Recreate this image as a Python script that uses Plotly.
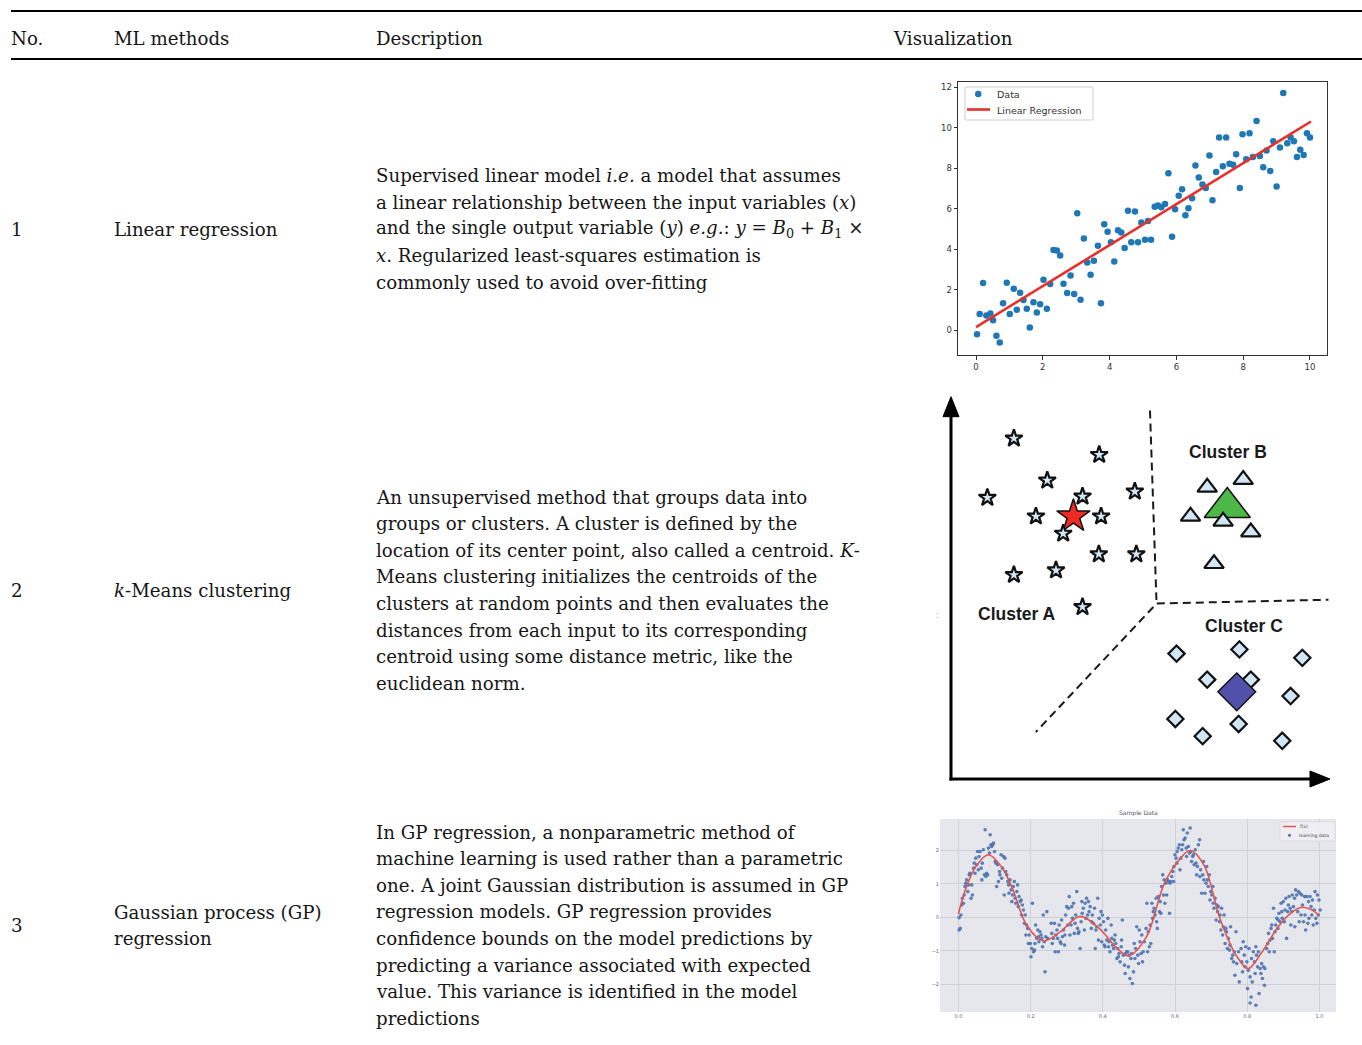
import plotly.graph_objects as go

# ======================= DATA =======================
header_labels = ["No.", "ML methods", "Description", "Visualization"]
row_numbers = ["1", "2", "3"]
method_lines = [["Linear regression"],
                ["<i>k</i>-Means clustering"],
                ["Gaussian process (GP)", "regression"]]
desc_lines_1 = [
    "Supervised linear model <i>i.e.</i> a model that assumes",
    "a linear relationship between the input variables (<i>x</i>)",
    "and the single output variable (<i>y</i>) <i>e.g.</i>: <i>y</i> = <i>B</i><sub>0</sub> + <i>B</i><sub>1</sub> ×",
    "<i>x</i>. Regularized least-squares estimation is",
    "commonly used to avoid over-fitting",
]
desc_lines_2 = [
    "An unsupervised method that groups data into",
    "groups or clusters. A cluster is defined by the",
    "location of its center point, also called a centroid. <i>K</i>-",
    "Means clustering initializes the centroids of the",
    "clusters at random points and then evaluates the",
    "distances from each input to its corresponding",
    "centroid using some distance metric, like the",
    "euclidean norm.",
]
desc_lines_3 = [
    "In GP regression, a nonparametric method of",
    "machine learning is used rather than a parametric",
    "one. A joint Gaussian distribution is assumed in GP",
    "regression models. GP regression provides",
    "confidence bounds on the model predictions by",
    "predicting a variance associated with expected",
    "value. This variance is identified in the model",
    "predictions",
]

# --- Linear regression panel ---
lr_x = [0.03,0.11,0.21,0.31,0.43,0.51,0.61,0.71,0.81,0.92, 1.01,1.13,1.22,1.32,1.42,1.52,1.61,1.72,1.82,1.92,
        2.02,2.12,2.22,2.32,2.42,2.52,2.62,2.73,2.83,2.94, 3.03,3.13,3.23,3.33,3.43,3.53,3.65,3.74,3.84,3.94,
        4.04,4.14,4.25,4.35,4.45,4.55,4.65,4.76,4.85,4.95, 5.06,5.15,5.24,5.35,5.45,5.55,5.66,5.76,5.87,5.96,
        6.07,6.17,6.27,6.36,6.47,6.57,6.67,6.78,6.88,6.99, 7.08,7.19,7.28,7.39,7.49,7.59,7.70,7.79,7.90,7.98,
        8.09,8.19,8.29,8.40,8.50,8.60,8.70,8.81,8.90,9.00, 9.10,9.20,9.32,9.42,9.52,9.61,9.71,9.81,9.91,10.0]
lr_y = [-0.2,0.79,2.32,0.72,0.82,0.49,-0.28,-0.61,1.32,2.34, 0.79,2.04,1.0,1.84,1.48,1.05,0.13,1.37,0.87,1.28,
        2.48,1.05,2.27,3.96,3.93,3.68,2.29,1.83,2.70,1.78, 5.77,1.50,4.52,3.34,2.73,3.42,4.16,1.32,5.23,4.85,
        4.34,3.39,4.93,4.82,4.05,5.89,4.34,5.86,4.34,5.31, 4.46,5.39,4.46,6.09,6.15,6.07,6.22,7.75,4.61,5.97,
        6.63,6.96,5.67,6.02,6.51,8.13,7.53,7.19,7.01,8.62, 6.41,7.80,9.51,8.09,9.51,8.21,8.16,8.68,7.01,9.67,
        8.44,9.72,8.55,10.33,8.59,8.04,8.87,7.85,9.33,7.09, 9.01,11.71,9.23,9.51,9.33,8.55,8.90,8.65,9.72,9.51]
lr_fit_x = [0.0, 10.03]
lr_fit_y = [0.15, 10.3]
lr_xticks = [0, 2, 4, 6, 8, 10]
lr_yticks = [0, 2, 4, 6, 8, 10, 12]
lr_legend_labels = ["Data", "Linear Regression"]

# --- k-Means panel (diagram units 0..10) ---
km_star_x = [1.66,3.91,2.54,0.96,3.47,4.85,2.24,3.96,2.96,3.90,4.89,1.66,2.77,3.47]
km_star_y = [8.91,8.48,7.81,7.36,7.39,7.52,6.87,6.87,6.42,5.88,5.88,5.34,5.46,4.50]
km_tri_x = [6.76,7.71,6.32,7.18,7.91,6.94]
km_tri_y = [7.63,7.83,6.87,6.74,6.46,5.63]
km_dia_x = [5.95,7.61,9.27,6.76,7.91,8.96,5.92,7.59,6.64,8.74]
km_dia_y = [3.28,3.39,3.17,2.60,2.60,2.17,1.57,1.44,1.12,1.00]
km_centroid_a = (3.23, 6.87)
km_centroid_b = (7.29, 7.10)
km_centroid_c = (7.54, 2.28)
km_bound_1 = ([5.25, 5.42], [9.64, 4.68])
km_bound_2 = ([5.43, 9.96], [4.59, 4.69])
km_bound_3 = ([5.34, 2.24], [4.50, 1.23])
km_axis_len = 10
km_labels = ["Cluster A", "Cluster B", "Cluster C"]
km_label_x = [1.75, 7.32, 7.73]
km_label_y = [4.31, 8.56, 3.99]

# --- Gaussian process panel ---
gp_seg1 = [(0.002,-0.01),(0.002,-0.38),(0.005,-0.33),(0.007,0.07),(0.009,0.37),(0.011,0.57),(0.014,0.42),(0.016,0.67),
    (0.018,0.92),(0.020,1.02),(0.023,1.12),(0.026,0.77),(0.028,0.97),(0.030,1.27),(0.032,1.32),(0.035,0.57),(0.037,0.97),
    (0.039,0.67),(0.042,1.47),(0.044,1.62),(0.046,1.32),(0.048,1.77),(0.051,1.57),(0.053,1.97),(0.055,1.42),(0.057,1.82),
    (0.060,1.97),(0.063,1.47),(0.065,1.12),(0.066,1.62),(0.069,2.02),(0.072,1.27),(0.074,2.62),(0.076,1.22),(0.078,1.32),
    (0.081,1.27),(0.083,2.07),(0.086,1.92),(0.088,2.47),(0.090,2.17),(0.092,2.12),(0.095,2.17),(0.097,2.22),(0.100,1.97),
    (0.102,1.67),(0.104,1.62),(0.106,0.92),(0.109,1.57),(0.111,1.07),(0.114,1.37),(0.115,1.27),(0.118,1.87),(0.120,1.17),
    (0.122,1.47),(0.125,1.82),(0.127,0.67),(0.129,1.77),(0.131,1.37),(0.134,1.27),(0.137,1.07),(0.139,0.97),(0.140,0.72),
    (0.143,1.12),(0.146,0.82),(0.148,0.47),(0.150,0.67),(0.152,0.92),(0.155,1.07),(0.157,0.57),(0.159,0.42),(0.162,0.77),
    (0.164,0.97),(0.166,0.32),(0.168,0.62),(0.171,0.47),(0.174,0.52),(0.175,0.07),(0.177,0.37),(0.180,0.22),(0.183,-0.18),
    (0.185,0.07),(0.187,-0.53),(0.189,-0.23),(0.192,-0.33),(0.194,-0.78),(0.196,-0.53),(0.199,-0.78),(0.201,-1.18),
    (0.203,-0.93),(0.205,0.42),(0.208,-1.03),(0.211,-0.98),(0.212,-0.78),(0.214,-0.23),(0.217,-0.63),(0.220,-0.38),
    (0.222,-0.58),(0.223,-0.73),(0.226,-0.43),(0.229,-0.53),(0.231,-0.63),(0.233,-0.88),(0.235,0.07),(0.238,-0.73),
    (0.240,-1.63),(0.242,-0.58),(0.245,0.17),(0.247,-0.63)]
gp_seg2 = [(0.257,-0.18),(0.259,-0.48),(0.260,-0.78),(0.263,-0.63),(0.266,-0.18),(0.268,-1.03),(0.270,-0.53),(0.273,-0.38),
    (0.275,-0.63),(0.277,-1.03),(0.279,-0.23),(0.282,-0.73),(0.284,-0.78),(0.286,-0.08),(0.288,-0.58),(0.291,-0.38),
    (0.294,-0.83),(0.295,-0.53),(0.297,0.07),(0.300,0.32),(0.303,-0.23),(0.305,0.27),(0.307,0.62),(0.309,-0.53),
    (0.312,-0.23),(0.314,0.32),(0.316,-0.03),(0.319,0.42),(0.321,-0.48),(0.323,-0.18),(0.325,0.07),(0.328,0.77),
    (0.330,-0.33),(0.332,-0.48),(0.334,-0.43),(0.337,-0.93),(0.340,-0.13),(0.342,0.47),(0.343,0.12),(0.346,0.27),
    (0.349,-0.38),(0.351,0.42),(0.353,-0.03),(0.355,0.57),(0.358,0.07),(0.360,0.47),(0.362,0.17),(0.365,0.32),
    (0.368,-0.33),(0.369,-0.13),(0.371,0.07),(0.374,-0.18),(0.377,0.27),(0.379,-0.93),(0.381,-0.38),(0.383,-0.28),
    (0.386,0.57),(0.388,-0.68),(0.390,-0.03),(0.393,-0.23),(0.395,0.17),(0.397,-0.73),(0.399,0.07),(0.402,-0.13),
    (0.404,-0.83),(0.406,-0.88),(0.408,-0.38),(0.411,-0.68),(0.414,-0.03),(0.416,-0.88),(0.417,-0.73),(0.420,-1.03),
    (0.423,-0.23),(0.425,-0.63),(0.427,-0.83),(0.430,-0.93),(0.432,-0.68),(0.434,-0.53),(0.436,-0.78),(0.439,-1.23),
    (0.441,-0.93),(0.443,-1.18),(0.445,-1.08),(0.448,-1.33),(0.451,-0.88),(0.452,-0.68),(0.454,-0.08),(0.457,-1.13),
    (0.460,-1.43),(0.462,-1.68),(0.463,-1.08),(0.466,-1.03),(0.469,-1.03),(0.471,-1.48),(0.473,-1.13),(0.475,-1.83),
    (0.478,-1.23),(0.480,-1.08),(0.482,-1.98),(0.485,-1.63),(0.487,-0.78),(0.489,-1.23),(0.491,-0.93),(0.494,-0.28),
    (0.497,-1.13),(0.499,-1.38),(0.501,-0.38),(0.503,-0.73),(0.506,-1.08),(0.508,-0.53),(0.510,-1.33),(0.512,-1.03),
    (0.515,-0.73)]
gp_seg3 = [(0.520,-0.33),(0.522,0.42),(0.524,-1.03),(0.526,-0.43),(0.529,-0.88),(0.531,-0.23),(0.533,-0.78),(0.536,0.42),
    (0.538,-0.03),(0.540,0.17),(0.542,0.27),(0.545,0.07),(0.548,0.57),(0.549,-0.13),(0.551,-0.33),(0.554,0.62),
    (0.557,0.17),(0.559,0.47),(0.561,0.12),(0.563,0.92),(0.566,1.27),(0.568,0.67),(0.570,1.12),(0.572,0.42),
    (0.575,1.02),(0.577,0.67),(0.579,1.12),(0.582,1.07),(0.585,0.12),(0.586,1.02),(0.588,1.07),(0.591,1.22),
    (0.594,1.37),(0.596,1.07),(0.597,1.52),(0.600,1.87),(0.603,1.77),(0.605,1.62),(0.606,1.97),(0.609,2.07),
    (0.612,2.17),(0.614,1.42),(0.616,1.77),(0.619,2.02),(0.621,2.17),(0.623,2.62),(0.625,2.32),(0.628,2.37),
    (0.631,2.07),(0.632,1.82),(0.634,2.52),(0.637,2.12),(0.640,1.92),(0.642,2.67),(0.644,1.97),(0.646,1.67),
    (0.649,1.82),(0.651,1.87),(0.653,1.57),(0.656,2.02),(0.658,1.62),(0.660,1.27),(0.662,1.52),(0.665,2.17),
    (0.668,2.32),(0.669,1.22),(0.671,1.42),(0.674,0.72),(0.677,1.27),(0.679,1.67),(0.680,1.12),(0.683,0.72),
    (0.686,1.02),(0.688,1.52),(0.690,1.12),(0.692,0.92),(0.695,1.27),(0.697,0.52),(0.699,0.77),(0.702,0.67),
    (0.705,0.92),(0.706,0.42),(0.708,0.27),(0.711,0.57),(0.714,-0.08),(0.716,0.37),(0.718,0.17),(0.720,0.32),
    (0.723,-0.13),(0.725,0.07),(0.727,-0.38),(0.729,0.27),(0.732,-0.53),(0.734,-0.28),(0.736,0.07),(0.739,-0.78),
    (0.741,-0.33),(0.743,-0.43),(0.745,-0.93),(0.748,-0.63),(0.751,-0.98),(0.752,-0.83),(0.754,-0.28),(0.757,-1.23),
    (0.760,-1.13),(0.762,-1.33),(0.764,-1.03),(0.766,-1.73),(0.769,-0.43),(0.771,-1.38),(0.776,-1.03),(0.778,-1.93)]
gp_seg4 = [(0.783,-0.93),(0.785,-1.33),(0.787,-1.63),(0.789,-0.73),(0.792,-1.13),(0.794,-1.48),(0.796,-0.88),(0.799,-1.33),
    (0.801,-2.13),(0.803,-1.58),(0.805,-0.93),(0.808,-1.78),(0.808,-2.56),(0.811,-2.38),(0.812,-1.23),(0.814,-1.93),
    (0.817,-1.03),(0.820,-1.33),(0.822,-1.68),(0.824,-0.88),(0.824,-2.63),(0.826,-1.13),(0.829,-1.48),(0.831,-1.03),
    (0.833,-2.28),(0.836,-1.53),(0.838,-1.68),(0.840,-1.38),(0.842,-1.83),(0.845,-1.48),(0.848,-2.03),(0.849,-1.53),
    (0.854,-0.93),(0.857,-0.78),(0.859,-0.48),(0.861,-1.03),(0.863,-0.68),(0.866,-0.33),(0.868,-0.23),(0.870,-0.63),
    (0.873,0.27),(0.875,-1.03),(0.877,-0.43),(0.879,-0.23),(0.882,-0.03),(0.885,-0.33),(0.886,-0.08),(0.888,0.12),
    (0.891,-0.13),(0.894,0.42),(0.896,0.17),(0.897,-0.03),(0.900,0.47),(0.903,-0.13),(0.905,0.22),(0.907,0.57),
    (0.909,-0.63),(0.912,0.17),(0.914,0.37),(0.916,0.62),(0.919,0.27),(0.921,-0.23),(0.923,0.17),(0.925,0.67),
    (0.928,0.32),(0.931,0.57),(0.932,-0.28),(0.934,0.82),(0.937,0.67),(0.940,0.17),(0.942,0.77),(0.944,-0.13),
    (0.946,0.72),(0.949,0.07),(0.951,0.67),(0.953,0.37),(0.956,-0.13),(0.959,0.62),(0.960,0.07),(0.962,-0.38),
    (0.965,0.62),(0.968,-0.18),(0.970,0.47),(0.971,-0.03),(0.974,0.62),(0.977,0.32),(0.979,0.07),(0.981,0.52),
    (0.983,-0.23),(0.986,0.22),(0.988,0.77),(0.990,-0.03),(0.993,-0.18),(0.995,0.67),(0.997,0.07),(0.999,0.52),
    (1.002,0.22)]
gp_f_x = [0.0,0.02,0.05,0.083,0.12,0.15,0.19,0.235,0.28,0.337,0.39,0.44,0.471,0.52,0.57,0.61,0.642,0.68,0.725,0.77,0.803,0.84,0.886,0.92,0.951,0.98,1.0]
gp_f_y = [0.1,0.85,1.55,1.87,1.5,0.85,-0.25,-0.70,-0.45,0.03,-0.33,-0.93,-1.15,-0.6,1.0,1.7,2.0,1.57,-0.05,-1.15,-1.53,-1.05,-0.28,0.12,0.30,0.22,0.05]
gp_xticks = [0.0, 0.2, 0.4, 0.6, 0.8, 1.0]
gp_yticks = [-2, -1, 0, 1, 2]
gp_title = "Sample Data"
gp_legend_labels = ["f(x)", "learning data"]

# ======================= LAYOUT HELPERS =======================
W, H = 1362, 1045
def fx(p):
    return p / W
def fy(p):
    return 1 - p / H

SERIF = "DejaVu Serif"
TXT = 18.2
INK = "#161616"
LR_BLUE = "#1f77b4"
LR_RED = "#e8302a"
GP_BLUE = "#4c72b0"
GP_RED = "#e25550"

# k-means diagram: unit square [0,10] mapped to pixel box (951..1330, 396.7..779); pad the range
KM_PAD = 0.5
KM_PX_X = (1330 - 951) / 10.0
KM_PX_Y = (779 - 396.7) / 10.0

fig = go.Figure()

# ---------- Linear regression ----------
fig.add_trace(go.Scatter(x=lr_x, y=lr_y, mode="markers", name=lr_legend_labels[0], showlegend=False,
                         marker=dict(size=6.5, color=LR_BLUE), xaxis="x", yaxis="y"))
fig.add_trace(go.Scatter(x=lr_fit_x, y=lr_fit_y, mode="lines", name=lr_legend_labels[1], showlegend=False,
                         line=dict(color=LR_RED, width=2.6), xaxis="x", yaxis="y"))

# ---------- k-Means ----------
for bx, by in (km_bound_1, km_bound_2, km_bound_3):
    fig.add_trace(go.Scatter(x=bx, y=by, mode="lines", showlegend=False, hoverinfo="skip",
                             line=dict(color="#1a1a1a", width=2, dash="8px,5px"), xaxis="x2", yaxis="y2"))
fig.add_trace(go.Scatter(x=[km_centroid_a[0]], y=[km_centroid_a[1]], mode="markers", showlegend=False,
                         marker=dict(symbol="star", size=25, color="#ee2b24", line=dict(color="#111", width=1.5)),
                         xaxis="x2", yaxis="y2"))
fig.add_trace(go.Scatter(x=km_star_x, y=km_star_y, mode="markers", showlegend=False,
                         marker=dict(symbol="star", size=13, color="#d2e6f5", line=dict(color="#111", width=2.2)),
                         xaxis="x2", yaxis="y2"))
fig.add_trace(go.Scatter(x=[km_centroid_b[0]], y=[km_centroid_b[1]], mode="markers", showlegend=False,
                         marker=dict(symbol="triangle-up", size=40, color="#4db848", line=dict(color="#111", width=1.5)),
                         xaxis="x2", yaxis="y2"))
fig.add_trace(go.Scatter(x=km_tri_x, y=km_tri_y, mode="markers", showlegend=False,
                         marker=dict(symbol="triangle-up", size=17, color="#d2e6f5", line=dict(color="#111", width=2.2)),
                         xaxis="x2", yaxis="y2"))
fig.add_trace(go.Scatter(x=km_dia_x, y=km_dia_y, mode="markers", showlegend=False,
                         marker=dict(symbol="diamond", size=12.5, color="#d2e6f5", line=dict(color="#111", width=2.2)),
                         xaxis="x2", yaxis="y2"))
fig.add_trace(go.Scatter(x=[km_centroid_c[0]], y=[km_centroid_c[1]], mode="markers", showlegend=False,
                         marker=dict(symbol="diamond", size=29, color="#5151ab", line=dict(color="#111", width=1.5)),
                         xaxis="x2", yaxis="y2"))

# ---------- Gaussian process ----------
gp_points = gp_seg1 + gp_seg2 + gp_seg3 + gp_seg4
fig.add_trace(go.Scatter(x=[p[0] for p in gp_points], y=[p[1] for p in gp_points], mode="markers",
                         showlegend=False, marker=dict(size=3.6, color=GP_BLUE, opacity=0.9),
                         xaxis="x3", yaxis="y3"))
fig.add_trace(go.Scatter(x=gp_f_x, y=gp_f_y, mode="lines", showlegend=False,
                         line=dict(color=GP_RED, width=1.6, shape="spline"), xaxis="x3", yaxis="y3"))

annotations = []
shapes = []

def text(t, xp, yp, size=TXT, family=SERIF, color=INK, xanchor="left", **kw):
    annotations.append(dict(text=t, x=fx(xp), y=fy(yp), xref="paper", yref="paper",
                            xanchor=xanchor, yanchor="middle", showarrow=False, borderpad=0,
                            font=dict(family=family, size=size, color=color), **kw))

# table rules
for ry in (11, 59):
    shapes.append(dict(type="line", xref="paper", yref="paper", x0=fx(11), x1=1, y0=fy(ry), y1=fy(ry),
                       line=dict(color="#000", width=2)))

col_x = [10, 113, 375, 892]
for lab, cx in zip(header_labels, col_x):
    text(lab, cx, 38)

num_y = [229, 590, 925]
method_y = [[229], [590], [912, 938]]
desc_y0 = [176, 497, 832]
step = 26.6
for i, (num, mlines, dlines) in enumerate(zip(row_numbers, method_lines, [desc_lines_1, desc_lines_2, desc_lines_3])):
    text(num, col_x[0], num_y[i])
    for ml, my in zip(mlines, method_y[i]):
        text(ml, col_x[1], my)
    for j, dl in enumerate(dlines):
        text(dl, col_x[2], desc_y0[i] + j * step)

# linear-regression legend (drawn box)
shapes.append(dict(type="rect", xref="paper", yref="paper", x0=fx(965), x1=fx(1093), y0=fy(120), y1=fy(87),
                   fillcolor="white", line=dict(color="#cfcfcf", width=1)))
shapes.append(dict(type="circle", xref="paper", yref="paper", x0=fx(975), x1=fx(981.5), y0=fy(97.3), y1=fy(90.8),
                   fillcolor=LR_BLUE, line=dict(width=0)))
shapes.append(dict(type="line", xref="paper", yref="paper", x0=fx(967), x1=fx(990), y0=fy(109.5), y1=fy(109.5),
                   line=dict(color=LR_RED, width=2.6)))
text(lr_legend_labels[0], 996, 94.5, size=9.5, family="DejaVu Sans", color="#333")
text(lr_legend_labels[1], 996, 110, size=9.5, family="DejaVu Sans", color="#333")

# k-means axes with arrowheads (shapes in diagram units)
head_len_x = 20 / KM_PX_X
head_len_y = 20 / KM_PX_Y
head_half_x = 8 / KM_PX_X
head_half_y = 8 / KM_PX_Y
L = km_axis_len
shapes.append(dict(type="line", xref="x2", yref="y2", x0=0, y0=-0.04, x1=0, y1=L - head_len_y + 0.05,
                   line=dict(color="#000", width=3)))
shapes.append(dict(type="line", xref="x2", yref="y2", x0=-0.04, y0=0, x1=L - head_len_x + 0.05, y1=0,
                   line=dict(color="#000", width=3)))
shapes.append(dict(type="path", xref="x2", yref="y2",
                   path="M %.3f,%.3f L 0,%.3f L %.3f,%.3f Z" % (-head_half_x, L - head_len_y, L, head_half_x, L - head_len_y),
                   fillcolor="#000", line=dict(color="#000", width=1)))
shapes.append(dict(type="path", xref="x2", yref="y2",
                   path="M %.3f,%.3f L %.3f,0 L %.3f,%.3f Z" % (L - head_len_x, -head_half_y, L, L - head_len_x, head_half_y),
                   fillcolor="#000", line=dict(color="#000", width=1)))
for lab, lx, ly in zip(km_labels, km_label_x, km_label_y):
    annotations.append(dict(text="<b>" + lab + "</b>", x=lx, y=ly, xref="x2", yref="y2", showarrow=False,
                            xanchor="center", yanchor="middle",
                            font=dict(family="Liberation Sans", size=17.5, color="#1a1a1a")))
text(":", 937, 616, size=8, family="DejaVu Sans", color="#999", xanchor="center")

# GP background, title, legend
shapes.append(dict(type="rect", xref="x3 domain", yref="y3 domain", x0=0, x1=1, y0=0, y1=1,
                   fillcolor="#e6e7ec", line=dict(width=0), layer="below"))
text(gp_title, 1138, 813, size=6, family="DejaVu Sans", color="#555", xanchor="center")
shapes.append(dict(type="rect", xref="paper", yref="paper", x0=fx(1280), x1=fx(1335), y0=fy(841), y1=fy(822),
                   fillcolor="rgba(240,240,244,0.9)", line=dict(color="#d4d4d8", width=0.6)))
shapes.append(dict(type="line", xref="paper", yref="paper", x0=fx(1283), x1=fx(1296), y0=fy(826.5), y1=fy(826.5),
                   line=dict(color=GP_RED, width=1.5)))
shapes.append(dict(type="circle", xref="paper", yref="paper", x0=fx(1288), x1=fx(1291), y0=fy(836.8), y1=fy(833.8),
                   fillcolor=GP_BLUE, line=dict(width=0)))
text(gp_legend_labels[0], 1299, 826.5, size=4.5, family="DejaVu Sans", color="#444")
text(gp_legend_labels[1], 1298, 835.3, size=4.5, family="DejaVu Sans", color="#444")

fig.update_layout(
    width=W, height=H, margin=dict(l=0, r=0, t=0, b=0),
    paper_bgcolor="white", plot_bgcolor="rgba(0,0,0,0)",
    showlegend=False,
    xaxis=dict(domain=[fx(958), fx(1327)], range=[-0.54, 10.51], tickvals=lr_xticks, anchor="y",
               ticks="outside", ticklen=3.5, tickwidth=1, tickcolor="#333", showline=True, mirror=True,
               linecolor="#333", linewidth=1, showgrid=False, zeroline=False,
               tickfont=dict(family="DejaVu Sans", size=8.5, color="#333")),
    yaxis=dict(domain=[fy(355), fy(82)], range=[-1.23, 12.25], tickvals=lr_yticks, anchor="x",
               ticks="outside", ticklen=3.5, tickwidth=1, tickcolor="#333", showline=True, mirror=True,
               linecolor="#333", linewidth=1, showgrid=False, zeroline=False,
               tickfont=dict(family="DejaVu Sans", size=8.5, color="#333")),
    xaxis2=dict(domain=[fx(951 - KM_PAD * KM_PX_X), fx(1330 + KM_PAD * KM_PX_X)], range=[-KM_PAD, 10 + KM_PAD],
                visible=False, anchor="y2"),
    yaxis2=dict(domain=[fy(779 + KM_PAD * KM_PX_Y), fy(396.7 - KM_PAD * KM_PX_Y)], range=[-KM_PAD, 10 + KM_PAD],
                visible=False, anchor="x2"),
    xaxis3=dict(domain=[fx(940), fx(1336)], range=[-0.051, 1.046], tickvals=gp_xticks,
                ticktext=["%.1f" % v for v in gp_xticks], anchor="y3", showgrid=True, gridcolor="#d0d1d7",
                gridwidth=0.8, zeroline=False, showline=False, ticks="",
                tickfont=dict(family="DejaVu Sans", size=5, color="#666")),
    yaxis3=dict(domain=[fy(1012), fy(819)], range=[-2.83, 2.94], tickvals=gp_yticks, anchor="x3",
                showgrid=True, gridcolor="#d0d1d7", gridwidth=0.8, zeroline=False, showline=False, ticks="",
                tickfont=dict(family="DejaVu Sans", size=5, color="#666")),
    annotations=annotations, shapes=shapes,
)

fig.write_html("out.html", config={"displayModeBar": False},
               post_script="document.body.style.margin='0px';document.body.style.overflow='hidden';")
